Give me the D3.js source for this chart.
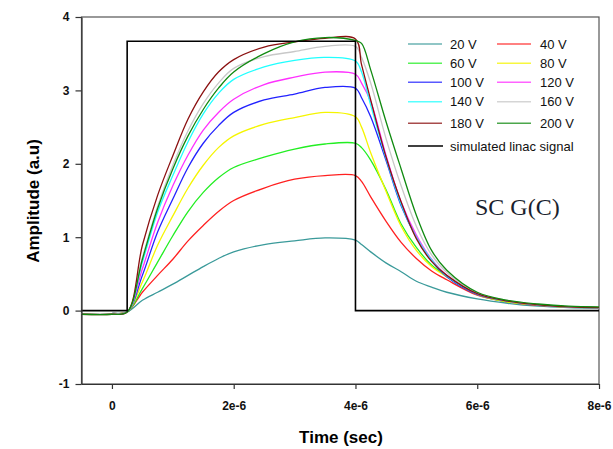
<!DOCTYPE html>
<html>
<head>
<meta charset="utf-8">
<script src="https://cdn.jsdelivr.net/npm/d3@7"></script>
<style>
  body { margin: 0; background: #fff; }
  svg { display: block; font-family: "Liberation Sans", Arial, sans-serif; }
</style>
</head>
<body>
<svg id="chart" width="613" height="449"></svg>
<script>
// time axis in microseconds (converted to seconds when plotted)
const timeUs = [-0.5, 0, 0.25, 0.5, 0.75, 1.0, 1.25, 1.5, 1.75, 2.0, 2.5, 3.0, 3.5, 4.0, 4.1, 4.25, 4.5, 4.75, 5.0, 5.25, 5.5, 6.0, 6.5, 7.0, 7.5, 8.0];

const v20  = [-0.04, -0.04, -0.02, 0.14, 0.25, 0.36, 0.48, 0.60, 0.71, 0.80, 0.90, 0.95, 0.99, 0.96, 0.90, 0.80, 0.65, 0.53, 0.40, 0.32, 0.25, 0.16, 0.10, 0.06, 0.04, 0.03];
const v40  = [-0.04, -0.04, -0.02, 0.25, 0.48, 0.70, 0.95, 1.16, 1.35, 1.50, 1.67, 1.79, 1.84, 1.84, 1.76, 1.55, 1.22, 0.93, 0.71, 0.54, 0.42, 0.21, 0.12, 0.07, 0.05, 0.04];
const v60  = [-0.04, -0.04, -0.02, 0.30, 0.66, 1.02, 1.35, 1.61, 1.81, 1.95, 2.09, 2.20, 2.27, 2.28, 2.22, 2.05, 1.65, 1.18, 0.86, 0.62, 0.47, 0.22, 0.12, 0.08, 0.05, 0.04];
const v80  = [-0.04, -0.04, -0.02, 0.39, 0.89, 1.29, 1.67, 1.98, 2.22, 2.38, 2.54, 2.63, 2.70, 2.64, 2.50, 2.15, 1.63, 1.15, 0.82, 0.60, 0.46, 0.22, 0.12, 0.08, 0.05, 0.04];
const v100 = [-0.04, -0.04, -0.02, 0.48, 1.07, 1.52, 1.95, 2.28, 2.52, 2.70, 2.87, 2.95, 3.04, 3.03, 2.90, 2.64, 2.05, 1.43, 1.00, 0.68, 0.46, 0.22, 0.13, 0.08, 0.05, 0.04];
const v120 = [-0.04, -0.04, -0.02, 0.57, 1.20, 1.70, 2.12, 2.46, 2.70, 2.88, 3.08, 3.18, 3.25, 3.22, 3.10, 2.85, 2.12, 1.48, 1.03, 0.70, 0.48, 0.23, 0.13, 0.08, 0.05, 0.04];
const v140 = [-0.04, -0.04, -0.02, 0.66, 1.34, 1.84, 2.30, 2.68, 2.96, 3.15, 3.32, 3.41, 3.45, 3.40, 3.25, 2.80, 2.08, 1.45, 1.00, 0.69, 0.47, 0.23, 0.13, 0.08, 0.05, 0.04];
const v160 = [-0.04, -0.04, -0.02, 0.72, 1.42, 1.98, 2.45, 2.82, 3.10, 3.30, 3.46, 3.53, 3.60, 3.60, 3.45, 3.10, 2.35, 1.70, 1.15, 0.76, 0.52, 0.24, 0.14, 0.08, 0.05, 0.04];
const v180 = [-0.05, -0.05, -0.02, 0.89, 1.57, 2.11, 2.61, 2.98, 3.25, 3.42, 3.59, 3.66, 3.71, 3.70, 3.35, 2.87, 2.10, 1.48, 0.98, 0.67, 0.48, 0.23, 0.13, 0.08, 0.05, 0.04];
const v200 = [-0.05, -0.05, -0.02, 0.70, 1.39, 1.93, 2.38, 2.74, 3.03, 3.25, 3.50, 3.66, 3.72, 3.68, 3.64, 3.28, 2.58, 1.93, 1.30, 0.82, 0.55, 0.25, 0.14, 0.09, 0.06, 0.05];

// simulated linac pulse
const sigTimeUs = [-0.5, 0.25, 0.25, 4.0, 4.0, 8.0];
const sigValue  = [0, 0, 3.67, 3.67, 0, 0];

const seriesNames  = ['20 V', '40 V', '60 V', '80 V', '100 V', '120 V', '140 V', '160 V', '180 V', '200 V'];
const seriesValues = [v20, v40, v60, v80, v100, v120, v140, v160, v180, v200];
const seriesColors = ['#3a9a9a', '#ff2020', '#22ee22', '#f5f500', '#2222ff', '#ff30ff', '#20ffff', '#c8c8c8', '#8b1010', '#108a10'];

const xTicks = [0, 2e-6, 4e-6, 6e-6, 8e-6];
const xTickLabels = ['0', '2e-6', '4e-6', '6e-6', '8e-6'];
const yTicks = [-1, 0, 1, 2, 3, 4];

const svg = d3.select('#chart');
const L = 81.5, R = 599, T = 17, B = 384;

const x = d3.scaleLinear().domain([-0.5e-6, 8e-6]).range([L, R]);
const y = d3.scaleLinear().domain([-1, 4]).range([B, T]);

// frame (top / right)
svg.append('rect').attr('x', L).attr('y', T).attr('width', R - L).attr('height', B - T)
  .attr('fill', 'none').attr('stroke', '#555').attr('stroke-width', 1.2);

const line = d3.line().x(d => x(d[0])).y(d => y(d[1])).curve(d3.curveCatmullRom.alpha(0.5));

const plot = svg.append('g');
seriesValues.forEach((vals, i) => {
  const pts = timeUs.map((t, j) => [t * 1e-6, vals[j]]);
  plot.append('path').attr('d', line(pts)).attr('fill', 'none')
    .attr('stroke', seriesColors[i]).attr('stroke-width', 1.3);
});

const sigPts = sigTimeUs.map((t, j) => [t * 1e-6, sigValue[j]]);
plot.append('path').attr('d', d3.line().x(d => x(d[0])).y(d => y(d[1]))(sigPts))
  .attr('fill', 'none').attr('stroke', '#000').attr('stroke-width', 1.6);

// axes
const xAxis = d3.axisBottom(x).tickValues(xTicks).tickFormat((d, i) => xTickLabels[i])
  .tickSizeInner(5).tickSizeOuter(0).tickPadding(12);
const yAxis = d3.axisLeft(y).tickValues(yTicks).tickFormat(d => String(d))
  .tickSizeInner(6).tickSizeOuter(0).tickPadding(6);

const gx = svg.append('g').attr('transform', `translate(0,${B})`).call(xAxis);
const gy = svg.append('g').attr('transform', `translate(${L},0)`).call(yAxis);
[gx, gy].forEach(g => {
  g.selectAll('path, line').attr('stroke', '#333').attr('stroke-width', 1.2);
  g.selectAll('text').attr('font-size', 12).attr('font-weight', 700).attr('fill', '#111')
    .attr('font-family', '"Liberation Sans", Arial, sans-serif');
});

// axis titles
svg.append('text').attr('x', 341).attr('y', 443).attr('text-anchor', 'middle')
  .attr('font-size', 17).attr('font-weight', 700).text('Time (sec)');
svg.append('text').attr('transform', 'translate(39,201) rotate(-90)').attr('text-anchor', 'middle')
  .attr('font-size', 17).attr('font-weight', 700).text('Amplitude (a.u)');

// legend
const legendRowY = [44, 63.3, 82.3, 101.7, 123.3];
const legend = svg.append('g');
seriesNames.forEach((name, i) => {
  const col = i % 2, row = Math.floor(i / 2);
  const lx = col === 0 ? 408 : 497;
  const ly = legendRowY[row];
  legend.append('line').attr('x1', lx).attr('x2', lx + 34).attr('y1', ly).attr('y2', ly)
    .attr('stroke', seriesColors[i]).attr('stroke-width', 1.6).attr('opacity', 0.75);
  legend.append('text').attr('x', col === 0 ? 450 : 540).attr('y', ly + 4.5)
    .attr('font-size', 13).attr('fill', '#111').text(name);
});
legend.append('line').attr('x1', 408).attr('x2', 443).attr('y1', 146).attr('y2', 146)
  .attr('stroke', '#000').attr('stroke-width', 1.6);
legend.append('text').attr('x', 450).attr('y', 150.5).attr('font-size', 13).attr('fill', '#111')
  .text('simulated linac signal');

// sample label
svg.append('text').attr('x', 475).attr('y', 215).attr('font-family', '"Liberation Serif", "DejaVu Serif", serif')
  .attr('font-size', 24).attr('fill', '#1a1f2e').text('SC G(C)');
</script>
</body>
</html>
